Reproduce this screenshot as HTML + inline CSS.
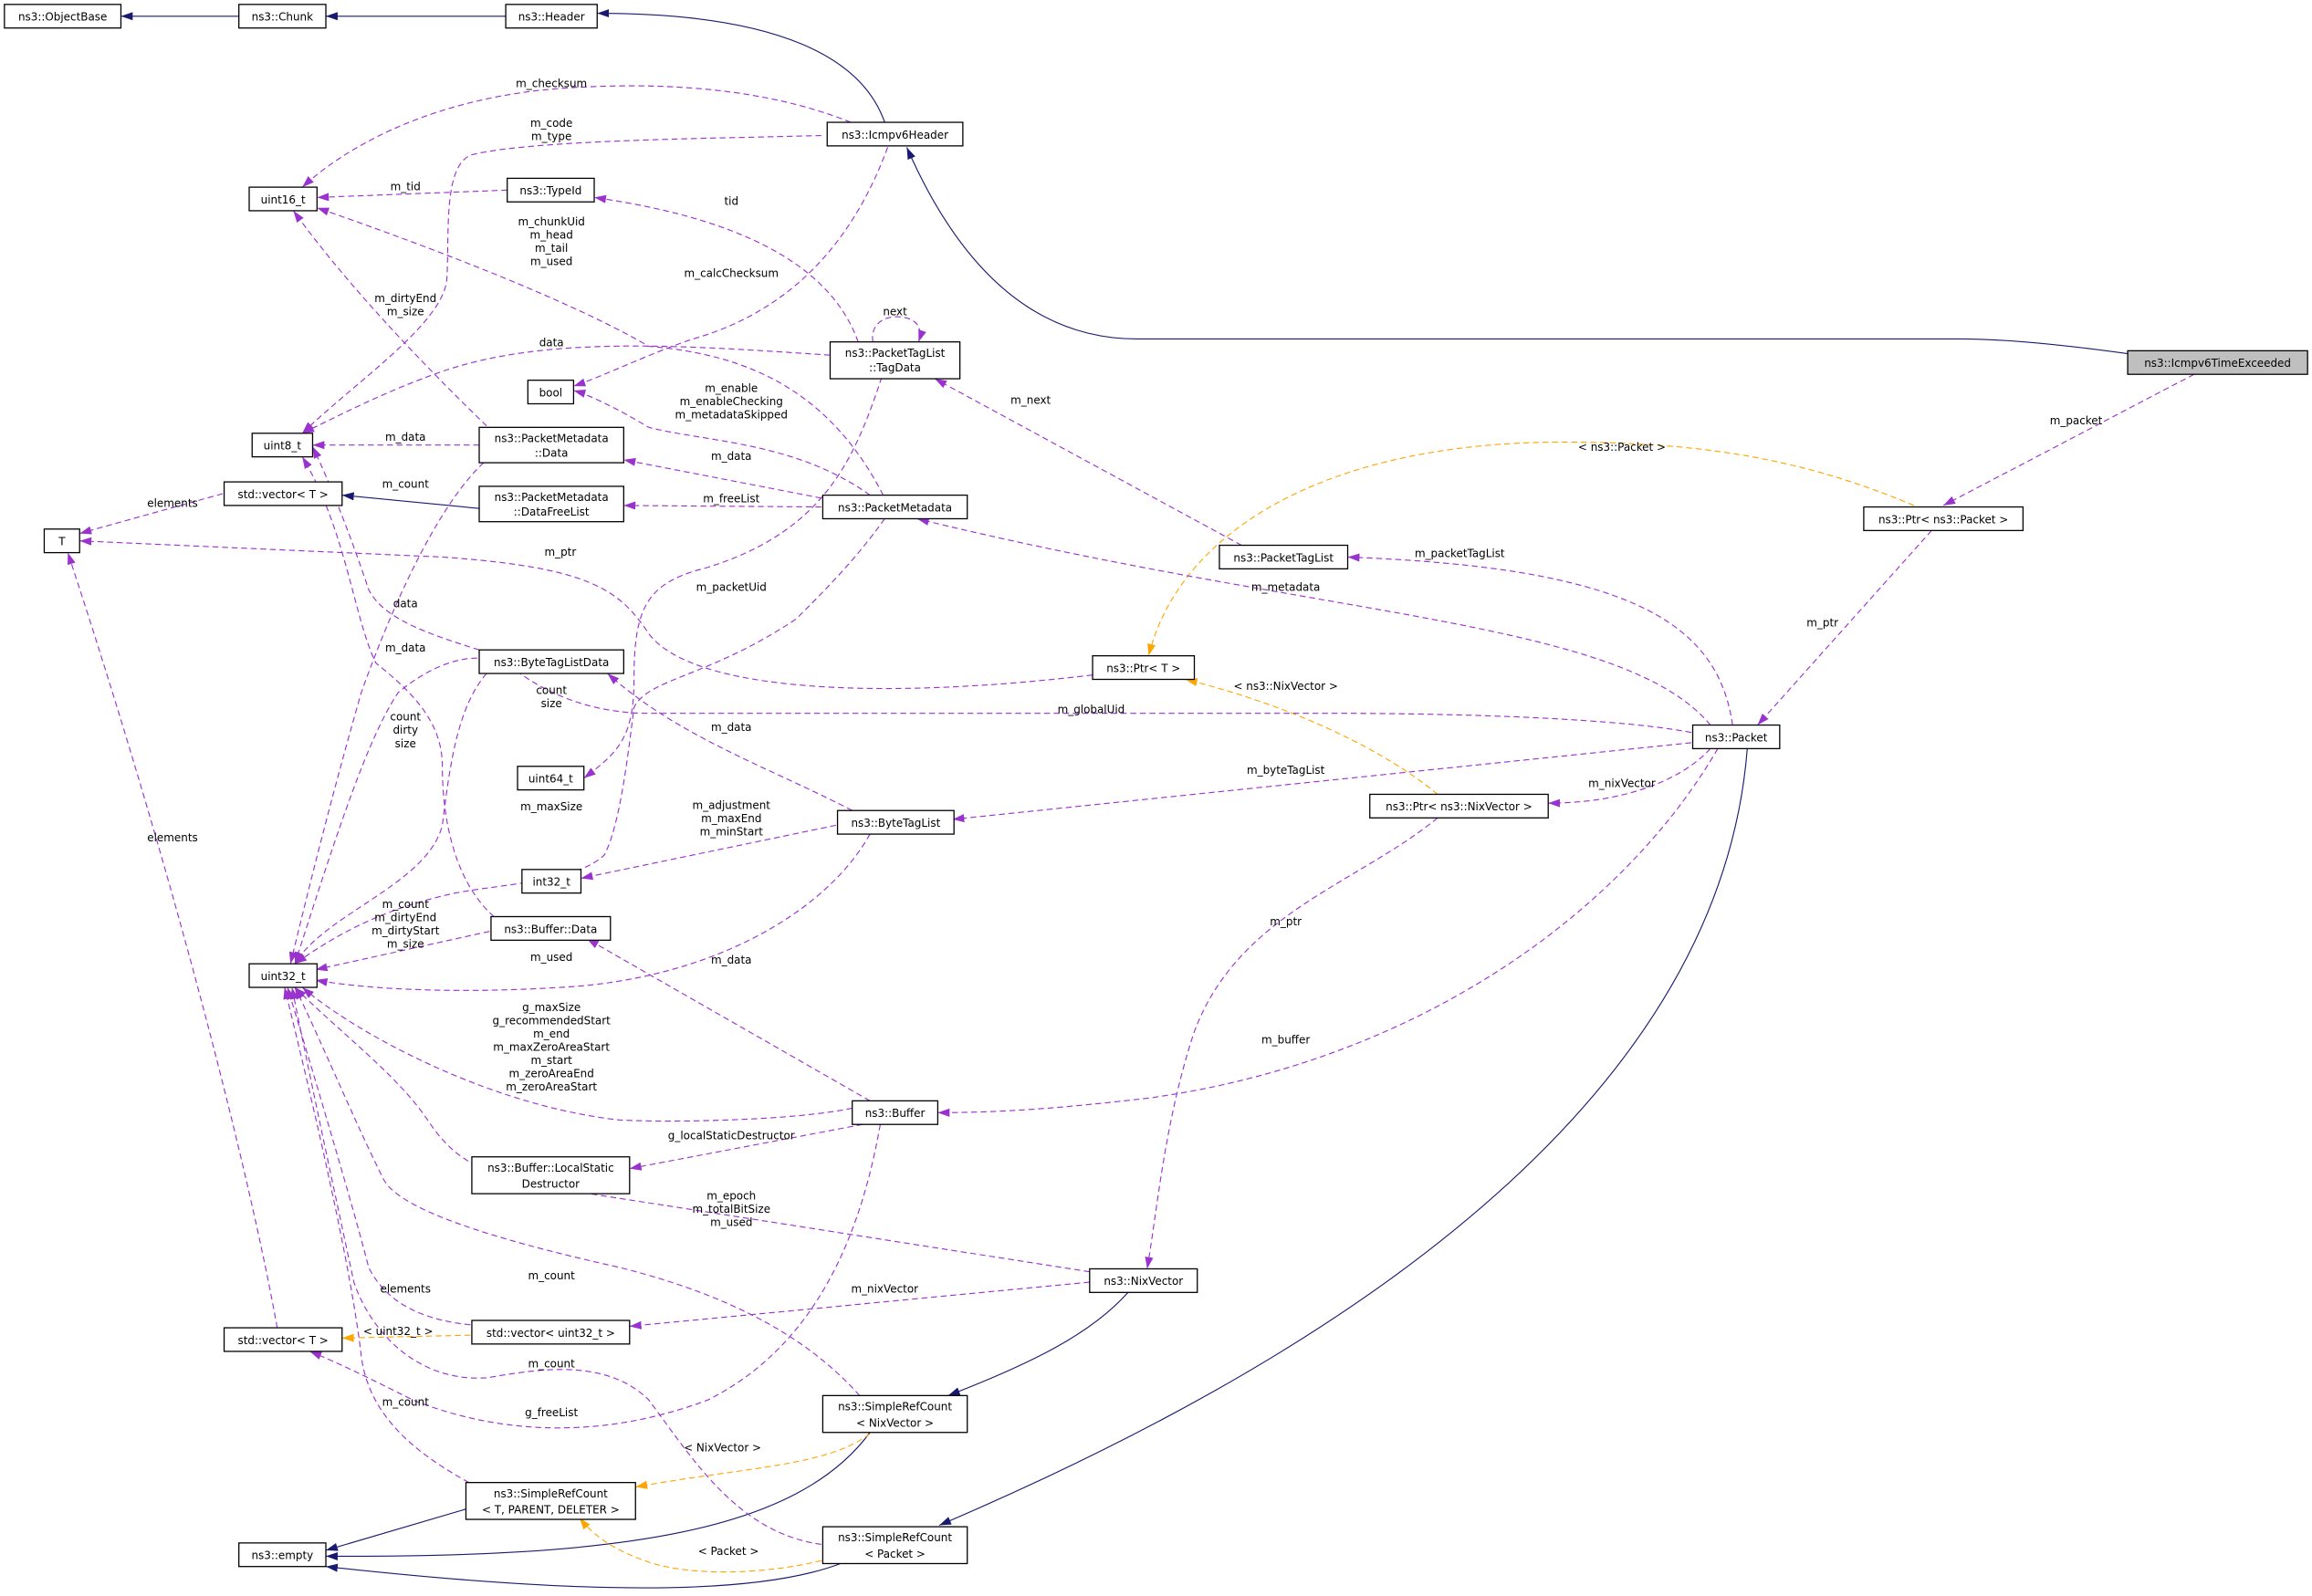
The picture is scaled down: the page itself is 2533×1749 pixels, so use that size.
<!DOCTYPE html>
<html><head><meta charset="utf-8"><style>
html,body{margin:0;padding:0;background:#fff;}
svg{display:block;}
text{font-family:"DejaVu Sans","Liberation Sans",sans-serif;font-size:7.4px;fill:#000;}
.n{fill:#fff;stroke:#000;stroke-width:0.8;}
.p{fill:none;stroke:#9a32cd;stroke-width:0.7;stroke-dasharray:4,2.5;marker-end:url(#mp);}
.o{fill:none;stroke:#ffa500;stroke-width:0.7;stroke-dasharray:4,2.5;marker-end:url(#mo);}
.b{fill:none;stroke:#191970;stroke-width:0.7;marker-end:url(#mb);}
</style></head><body>
<svg width="2533" height="1749" viewBox="0 0 1568 1083" preserveAspectRatio="none" xmlns="http://www.w3.org/2000/svg">
<defs>
<marker id="mp" viewBox="0 0 10 7" refX="10" refY="3.5" markerWidth="8" markerHeight="6" markerUnits="userSpaceOnUse" orient="auto"><path d="M0,0L10,3.5L0,7z" fill="#9a32cd"/></marker>
<marker id="mo" viewBox="0 0 10 7" refX="10" refY="3.5" markerWidth="8" markerHeight="6" markerUnits="userSpaceOnUse" orient="auto"><path d="M0,0L10,3.5L0,7z" fill="#ffa500"/></marker>
<marker id="mb" viewBox="0 0 10 7" refX="10" refY="3.5" markerWidth="8" markerHeight="6" markerUnits="userSpaceOnUse" orient="auto"><path d="M0,0L10,3.5L0,7z" fill="#191970"/></marker>
</defs>

<!-- navy inheritance -->
<path class="b" d="M162,11L82,11"/>
<path class="b" d="M343,11L221,11"/>
<path class="b" d="M600,83C585,40 530,9 405,9"/>
<path class="b" d="M1443,240C1400,234 1360,230 1330,230L771,230C700,230 650,180 615,100"/>
<path class="b" d="M325,345L232,336"/>
<path class="b" d="M765,877C740,905 700,925 643,947"/>
<path class="b" d="M1185,508C1170,700 1000,880 637,1035"/>
<path class="b" d="M316,1024L221,1052"/>
<path class="b" d="M590,972C540,1040 420,1057 221,1056"/>
<path class="b" d="M570,1061C520,1080 420,1085 221,1063"/>

<!-- orange template -->
<path class="o" d="M1298,343C1220,310 1150,300 1060,300C900,300 800,360 779,445"/>
<path class="o" d="M975,539C940,510 880,480 804,461"/>
<path class="o" d="M319,906L232,908"/>
<path class="o" d="M590,973C560,995 510,995 431,1009"/>
<path class="o" d="M557,1059C520,1068 470,1070 440,1060C420,1053 405,1045 393,1030"/>

<!-- purple members -->
<path class="p" d="M1488,254L1318,343"/>
<path class="p" d="M1310,360L1192,492"/>
<path class="p" d="M1175,492C1165,420 1100,385 914,378"/>
<path class="p" d="M1160,492C1100,420 900,420 622,352"/>
<path class="p" d="M1147,497C1100,488 1000,484 900,484L440,484C400,484 370,470 350,455C330,440 300,445 270,470C250,500 230,560 200,654"/>
<path class="p" d="M741,458C600,475 470,470 440,430C420,400 400,385 300,378L54,367"/>
<path class="p" d="M577,83C520,60 450,55 380,60C300,66 240,95 205,127"/>
<path class="p" d="M557,92C480,94 360,95 320,105C300,112 305,160 303,190C300,220 240,260 205,294"/>
<path class="p" d="M602,100C580,160 540,210 470,230C440,240 410,255 389,262"/>
<path class="p" d="M344,129L215,134"/>
<path class="p" d="M582,232C560,170 480,145 403,134"/>
<path class="p" d="M592,232C590,220 600,214 610,215C625,216 625,226 623,232"/>
<path class="p" d="M563,241C460,234 370,228 300,252C260,266 230,282 205,294"/>
<path class="p" d="M598,256C580,310 560,360 480,385C440,395 430,410 430,460C430,500 420,510 396,528"/>
<path class="p" d="M842,370L634,257"/>
<path class="p" d="M599,336C560,260 500,240 440,235C380,200 270,160 215,141"/>
<path class="p" d="M590,336C540,300 480,300 440,290C420,278 400,268 389,265"/>
<path class="p" d="M557,338L423,312"/>
<path class="p" d="M557,344L423,343"/>
<path class="p" d="M600,352C580,380 560,400 540,420C480,460 440,460 430,480C425,520 420,560 410,580C390,600 330,600 300,608C250,620 220,640 200,654"/>
<path class="p" d="M330,289C300,260 240,200 199,143"/>
<path class="p" d="M325,302L212,302"/>
<path class="p" d="M328,314C300,340 270,400 245,470C225,540 210,600 197,654"/>
<path class="p" d="M151,335L54,362"/>
<path class="p" d="M188,901C170,800 120,600 46,375"/>
<path class="p" d="M325,441C290,430 260,420 250,400C240,370 225,330 212,303"/>
<path class="p" d="M335,622C310,600 300,560 300,520C300,490 280,470 255,450C240,420 235,360 205,310"/>
<path class="p" d="M330,457C310,480 305,520 300,560C290,600 220,620 200,654"/>
<path class="p" d="M578,550C520,520 460,500 412,457"/>
<path class="p" d="M567,560L394,596"/>
<path class="p" d="M590,566C560,620 480,665 380,670C300,675 240,670 214,665"/>
<path class="p" d="M1147,504L646,556"/>
<path class="p" d="M1160,508C1140,530 1100,545 1050,545"/>
<path class="p" d="M1165,508C1100,620 960,720 780,745C720,752 680,755 636,755"/>
<path class="p" d="M975,555C920,600 840,620 810,700C790,760 785,820 778,861"/>
<path class="p" d="M332,632L214,658"/>
<path class="p" d="M590,747L398,637"/>
<path class="p" d="M578,752C540,760 460,762 420,760C330,750 240,700 205,670"/>
<path class="p" d="M585,763L427,793"/>
<path class="p" d="M597,763C580,860 540,920 480,950C400,980 330,970 280,950C250,935 230,925 210,917"/>
<path class="p" d="M739,863L400,810C330,800 310,790 290,760C270,730 230,700 200,670"/>
<path class="p" d="M739,870L427,900"/>
<path class="p" d="M319,899C280,895 260,880 250,860C240,820 210,720 195,670"/>
<path class="p" d="M583,947C550,910 500,880 420,860C330,840 270,820 260,800C240,760 215,700 200,670"/>
<path class="p" d="M318,1006C280,985 250,960 245,920C238,860 215,760 193,670"/>
<path class="p" d="M557,1048C500,1040 470,990 440,950C410,920 360,930 330,935C280,938 250,900 240,870C225,800 210,730 198,670"/>

<!-- nodes -->
<g>
<rect class="n" x="3" y="3" width="79" height="16"/><text x="42.5" y="14" text-anchor="middle">ns3::ObjectBase</text>
<rect class="n" x="162" y="3" width="59" height="16"/><text x="191.5" y="14" text-anchor="middle">ns3::Chunk</text>
<rect class="n" x="343" y="3" width="62" height="16"/><text x="374" y="14" text-anchor="middle">ns3::Header</text>
<rect class="n" x="561" y="83" width="92" height="16"/><text x="607" y="94" text-anchor="middle">ns3::Icmpv6Header</text>
<rect class="n" x="169" y="127" width="46" height="16"/><text x="192" y="138" text-anchor="middle">uint16_t</text>
<rect class="n" x="344" y="121" width="59" height="16"/><text x="373.5" y="132" text-anchor="middle">ns3::TypeId</text>
<rect class="n" x="563" y="232" width="88" height="25"/><text x="607" y="242" text-anchor="middle">ns3::PacketTagList</text><text x="607" y="252" text-anchor="middle">::TagData</text>
<rect class="n" x="358" y="258" width="31" height="16"/><text x="373.5" y="269" text-anchor="middle">bool</text>
<rect class="n" x="171" y="294" width="41" height="16"/><text x="191.5" y="305" text-anchor="middle">uint8_t</text>
<rect class="n" x="325" y="290" width="98" height="24"/><text x="374" y="300" text-anchor="middle">ns3::PacketMetadata</text><text x="374" y="310" text-anchor="middle">::Data</text>
<rect class="n" x="152" y="327" width="80" height="16"/><text x="192" y="338" text-anchor="middle">std::vector&lt; T &gt;</text>
<rect class="n" x="325" y="330" width="98" height="24"/><text x="374" y="340" text-anchor="middle">ns3::PacketMetadata</text><text x="374" y="350" text-anchor="middle">::DataFreeList</text>
<rect class="n" x="558" y="336" width="98" height="16"/><text x="607" y="347" text-anchor="middle">ns3::PacketMetadata</text>
<rect class="n" x="30" y="359" width="24" height="16"/><text x="42" y="370" text-anchor="middle">T</text>
<rect class="n" x="325" y="441" width="98" height="16"/><text x="374" y="452" text-anchor="middle">ns3::ByteTagListData</text>
<rect class="n" x="351" y="520" width="45" height="16"/><text x="373.5" y="531" text-anchor="middle">uint64_t</text>
<rect class="n" x="568" y="550" width="79" height="16"/><text x="607.5" y="561" text-anchor="middle">ns3::ByteTagList</text>
<rect class="n" x="354" y="590" width="40" height="16"/><text x="374" y="601" text-anchor="middle">int32_t</text>
<rect class="n" x="333" y="622" width="81" height="16"/><text x="373.5" y="633" text-anchor="middle">ns3::Buffer::Data</text>
<rect class="n" x="169" y="654" width="46" height="16"/><text x="192" y="665" text-anchor="middle">uint32_t</text>
<rect class="n" x="578" y="747" width="58" height="16"/><text x="607" y="758" text-anchor="middle">ns3::Buffer</text>
<rect class="n" x="320" y="785" width="107" height="25"/><text x="373.5" y="795" text-anchor="middle">ns3::Buffer::LocalStatic</text><text x="373.5" y="806" text-anchor="middle">Destructor</text>
<rect class="n" x="320" y="896" width="107" height="16"/><text x="373.5" y="907" text-anchor="middle">std::vector&lt; uint32_t &gt;</text>
<rect class="n" x="152" y="901" width="80" height="16"/><text x="192" y="912" text-anchor="middle">std::vector&lt; T &gt;</text>
<rect class="n" x="558" y="947" width="98" height="25"/><text x="607" y="957" text-anchor="middle">ns3::SimpleRefCount</text><text x="607" y="968" text-anchor="middle">&lt; NixVector &gt;</text>
<rect class="n" x="316" y="1006" width="115" height="25"/><text x="373.5" y="1016" text-anchor="middle">ns3::SimpleRefCount</text><text x="373.5" y="1027" text-anchor="middle">&lt; T, PARENT, DELETER &gt;</text>
<rect class="n" x="162" y="1047" width="59" height="16"/><text x="191.5" y="1058" text-anchor="middle">ns3::empty</text>
<rect class="n" x="558" y="1036" width="98" height="25"/><text x="607" y="1046" text-anchor="middle">ns3::SimpleRefCount</text><text x="607" y="1057" text-anchor="middle">&lt; Packet &gt;</text>
<rect x="1443" y="238" width="122" height="16" fill="#bfbfbf" stroke="#000" stroke-width="0.8"/><text x="1504" y="249" text-anchor="middle">ns3::Icmpv6TimeExceeded</text>
<rect class="n" x="1264" y="344" width="108" height="16"/><text x="1318" y="355" text-anchor="middle">ns3::Ptr&lt; ns3::Packet &gt;</text>
<rect class="n" x="827" y="370" width="87" height="16"/><text x="870.5" y="381" text-anchor="middle">ns3::PacketTagList</text>
<rect class="n" x="741" y="445" width="69" height="16"/><text x="775.5" y="456" text-anchor="middle">ns3::Ptr&lt; T &gt;</text>
<rect class="n" x="1148" y="492" width="59" height="16"/><text x="1177.5" y="503" text-anchor="middle">ns3::Packet</text>
<rect class="n" x="929" y="539" width="121" height="16"/><text x="989.5" y="550" text-anchor="middle">ns3::Ptr&lt; ns3::NixVector &gt;</text>
<rect class="n" x="739" y="861" width="73" height="16"/><text x="775.5" y="872" text-anchor="middle">ns3::NixVector</text>
</g>

<!-- edge labels -->
<g text-anchor="middle">
<text x="374" y="59">m_checksum</text>
<text x="374" y="86">m_code</text><text x="374" y="95">m_type</text>
<text x="275" y="129">m_tid</text>
<text x="496" y="139">tid</text>
<text x="374" y="153">m_chunkUid</text><text x="374" y="162">m_head</text><text x="374" y="171">m_tail</text><text x="374" y="180">m_used</text>
<text x="496" y="188">m_calcChecksum</text>
<text x="275" y="205">m_dirtyEnd</text><text x="275" y="214">m_size</text>
<text x="607" y="214">next</text>
<text x="374" y="235">data</text>
<text x="496" y="266">m_enable</text><text x="496" y="275">m_enableChecking</text><text x="496" y="284">m_metadataSkipped</text>
<text x="699" y="274">m_next</text>
<text x="1408" y="288">m_packet</text>
<text x="275" y="299">m_data</text>
<text x="496" y="312">m_data</text>
<text x="1100" y="306">&lt; ns3::Packet &gt;</text>
<text x="275" y="331">m_count</text>
<text x="496" y="341">m_freeList</text>
<text x="117" y="344">elements</text>
<text x="380" y="377">m_ptr</text>
<text x="990" y="378">m_packetTagList</text>
<text x="872" y="401">m_metadata</text>
<text x="496" y="401">m_packetUid</text>
<text x="275" y="412">data</text>
<text x="1236" y="425">m_ptr</text>
<text x="275" y="442">m_data</text>
<text x="374" y="471">count</text><text x="374" y="480">size</text>
<text x="872" y="468">&lt; ns3::NixVector &gt;</text>
<text x="740" y="484">m_globalUid</text>
<text x="275" y="489">count</text><text x="275" y="498">dirty</text><text x="275" y="507">size</text>
<text x="496" y="496">m_data</text>
<text x="872" y="525">m_byteTagList</text>
<text x="1100" y="534">m_nixVector</text>
<text x="374" y="550">m_maxSize</text>
<text x="496" y="549">m_adjustment</text><text x="496" y="558">m_maxEnd</text><text x="496" y="567">m_minStart</text>
<text x="117" y="571">elements</text>
<text x="275" y="616">m_count</text><text x="275" y="625">m_dirtyEnd</text><text x="275" y="634">m_dirtyStart</text><text x="275" y="643">m_size</text>
<text x="872" y="628">m_ptr</text>
<text x="374" y="652">m_used</text>
<text x="496" y="654">m_data</text>
<text x="374" y="686">g_maxSize</text><text x="374" y="695">g_recommendedStart</text><text x="374" y="704">m_end</text><text x="374" y="713">m_maxZeroAreaStart</text><text x="374" y="722">m_start</text><text x="374" y="731">m_zeroAreaEnd</text><text x="374" y="740">m_zeroAreaStart</text>
<text x="872" y="708">m_buffer</text>
<text x="496" y="773">g_localStaticDestructor</text>
<text x="496" y="814">m_epoch</text><text x="496" y="823">m_totalBitSize</text><text x="496" y="832">m_used</text>
<text x="374" y="868">m_count</text>
<text x="275" y="877">elements</text>
<text x="600" y="877">m_nixVector</text>
<text x="270" y="906">&lt; uint32_t &gt;</text>
<text x="374" y="928">m_count</text>
<text x="275" y="954">m_count</text>
<text x="374" y="961">g_freeList</text>
<text x="490" y="985">&lt; NixVector &gt;</text>
<text x="494" y="1055">&lt; Packet &gt;</text>
</g>
</svg>
</body></html>
